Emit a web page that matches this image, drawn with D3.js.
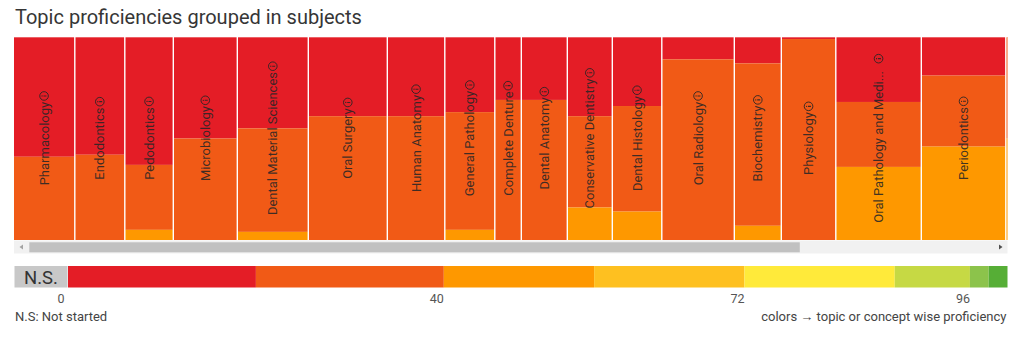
<!DOCTYPE html>
<html>
<head>
  <meta charset="utf-8" />
  <title>Topic proficiencies grouped in subjects</title>
  <script src="https://cdn.jsdelivr.net/npm/d3@7"></script>
  <style>
    html, body {
      margin: 0;
      padding: 0;
      background: #fff;
    }
    svg {
      display: block;
      font-family: Roboto, "Noto Sans", sans-serif;
    }
    .title {
      font-size: 20px;
      fill: #363636;
    }
    .col-label {
      font-size: 13px;
      fill: #262626;
      fill-opacity: 0.88;
    }
    .tick-label {
      font-size: 12.5px;
      fill: #555;
    }
    .note {
      font-size: 13px;
      fill: #444;
    }
  </style>
</head>
<body>
  <div id="chart"></div>
  <script>
    // subjects, in the order they are laid out
    const subjects = [
      "Pharmacology", "Endodontics", "Pedodontics", "Microbiology",
      "Dental Material Sciences", "Oral Surgery", "Human Anatomy",
      "General Pathology", "Complete Denture", "Dental Anatomy",
      "Conservative Dentistry", "Dental Histology", "Oral Radiology",
      "Biochemistry", "Physiology", "Oral Pathology and Medicine",
      "Periodontics", "Orthodontics"
    ];

    // column width weight of each subject
    const subjectWeight = [61.5, 50, 48.5, 64, 71, 79, 57.5, 50, 26.5, 46, 45, 49.5, 72.5, 47, 54.5, 85.5, 84.5, 60];

    // share of topics (%) in each proficiency band, per subject
    const band0to20 = [59, 58, 63, 50, 45, 39, 39, 37, 31, 31, 39, 34, 11, 13, 1, 32, 19, 0];
    const band20to40 = [41, 42, 32, 50, 51, 61, 61, 58, 69, 69, 45, 52, 89, 80, 99, 32, 35, 50];
    const band40to56 = [0, 0, 5, 0, 4, 0, 0, 5, 0, 0, 16, 14, 0, 7, 0, 36, 46, 50];

    // proficiency colour scale
    const thresholds = [0, 20, 40, 56, 72, 88, 96, 98, 100];
    const bandColors = ["#e41d26", "#f15a16", "#fe9800", "#fec020", "#ffea3a", "#c6d944", "#8cc34b", "#56ae36"];
    const tickValues = [0, 40, 72, 96];

    const W = 1024, H = 337;
    const view = { left: 14, right: 1007.5, top: 37, bottom: 240 };
    const contentWidth = 1242;

    const svg = d3.select("#chart").append("svg")
      .attr("width", W)
      .attr("height", H);

    svg.append("text")
      .attr("class", "title")
      .attr("x", 15)
      .attr("y", 23.5)
      .text("Topic proficiencies grouped in subjects");

    // rows for the stack
    const rows = subjects.map((s, i) => ({
      name: s,
      weight: subjectWeight[i],
      b0: band0to20[i],
      b1: band20to40[i],
      b2: band40to56[i]
    }));
    let acc = 0;
    rows.forEach(r => { r.start = acc; acc += r.weight; r.end = acc; });

    const x = d3.scaleLinear()
      .domain([0, d3.sum(subjectWeight)])
      .range([view.left, view.left + d3.sum(subjectWeight)]);

    const y = d3.scaleLinear()
      .domain([0, 100])
      .range([view.top, view.bottom]);

    const stack = d3.stack().keys(["b0", "b1", "b2"]);
    const series = stack(rows);

    svg.append("clipPath")
      .attr("id", "view-clip")
      .append("rect")
      .attr("x", view.left)
      .attr("y", view.top - 1)
      .attr("width", view.right - view.left)
      .attr("height", view.bottom - view.top + 1);

    const plot = svg.append("g").attr("clip-path", "url(#view-clip)");

    plot.selectAll("g.band")
      .data(series)
      .join("g")
      .attr("class", "band")
      .attr("fill", (d, i) => bandColors[i])
      .selectAll("rect")
      .data(d => d.filter(p => p[1] > p[0]))
      .join("rect")
      .attr("x", d => x(d.data.start))
      .attr("width", d => x(d.data.end) - x(d.data.start) - 1.4)
      .attr("y", d => y(d[0]))
      .attr("height", d => y(d[1]) - y(d[0]));

    // thin white edge along the top of the columns
    plot.append("line")
      .attr("x1", view.left).attr("x2", view.right)
      .attr("y1", view.top).attr("y2", view.top)
      .attr("stroke", "#fff").attr("stroke-opacity", 0.6).attr("stroke-width", 1);

    // rotated labels with an info icon (only for columns scrolled into view)
    const maxLabel = 156;
    const labels = plot.selectAll("g.col-label")
      .data(rows.filter(d => x(d.end) <= view.right + 2))
      .join("g")
      .attr("transform", d => `translate(${(x(d.start) + x(d.end) - 1.4) / 2},${(view.top + view.bottom) / 2}) rotate(-90)`);

    labels.each(function (d) {
      const g = d3.select(this);
      const t = g.append("text")
        .attr("class", "col-label")
        .attr("dy", "0.35em")
        .text(d.name);
      let cut = false;
      let name = d.name;
      while (t.node().getComputedTextLength() > maxLabel && name.length > 1) {
        name = name.slice(0, -1);
        t.text(name + "...");
        cut = true;
      }
      const len = t.node().getComputedTextLength();
      const r = 4.3, gap = cut ? 8 : 1.5;
      const total = len + gap + 2 * r;
      t.attr("x", -total / 2);
      const icon = g.append("g")
        .attr("transform", `translate(${-total / 2 + len + gap + r},0)`)
        .attr("stroke", "#262626")
        .attr("stroke-opacity", 0.88)
        .attr("fill", "none");
      icon.append("circle").attr("r", r).attr("stroke-width", 1);
      icon.append("line")
        .attr("x1", 0).attr("x2", 0)
        .attr("y1", -0.6).attr("y2", 2.4)
        .attr("stroke-width", 1.1);
      icon.append("circle")
        .attr("cy", -2)
        .attr("r", 0.6)
        .attr("fill", "#262626")
        .attr("stroke", "none");
    });

    // horizontal scroll bar under the columns
    const sb = svg.append("g");
    sb.append("rect")
      .attr("x", view.left).attr("y", 240.5)
      .attr("width", view.right - view.left).attr("height", 13)
      .attr("fill", "#f1f1f1");
    const track0 = view.left + 15.3, track1 = view.right - 15;
    const thumbW = (track1 - track0) * (view.right - view.left) / contentWidth;
    sb.append("rect")
      .attr("x", track0).attr("y", 242.3)
      .attr("width", thumbW).attr("height", 10)
      .attr("fill", "#c1c1c1");
    sb.append("path")
      .attr("d", "M19.5,247 L23,244.5 L23,249.5 Z")
      .attr("fill", "#a3a3a3");
    sb.append("path")
      .attr("d", "M1002.5,247 L999,244.5 L999,249.5 Z")
      .attr("fill", "#505050");

    // legend
    const lx = d3.scaleLinear().domain([0, 100]).range([68, 1007.5]);
    const legend = svg.append("g");

    legend.append("rect")
      .attr("x", 14.5).attr("y", 266)
      .attr("width", 53).attr("height", 21.5)
      .attr("fill", "#c8c8c8");
    legend.append("text")
      .attr("x", 41).attr("y", 283.5)
      .attr("text-anchor", "middle")
      .attr("font-size", 18.5)
      .attr("fill", "#333")
      .text("N.S.");

    legend.selectAll("rect.step")
      .data(bandColors)
      .join("rect")
      .attr("class", "step")
      .attr("x", (c, i) => lx(thresholds[i]))
      .attr("width", (c, i) => lx(thresholds[i + 1]) - lx(thresholds[i]))
      .attr("y", 266)
      .attr("height", 21.5)
      .attr("fill", c => c);

    legend.selectAll("text.tick-label")
      .data(tickValues)
      .join("text")
      .attr("class", "tick-label")
      .attr("x", v => lx(v) - 7)
      .attr("y", 302.5)
      .attr("text-anchor", "middle")
      .text(v => v);

    svg.append("text")
      .attr("class", "note")
      .attr("x", 15)
      .attr("y", 321)
      .text("N.S: Not started");

    svg.append("text")
      .attr("class", "note")
      .attr("x", 1006.5)
      .attr("y", 321)
      .attr("text-anchor", "end")
      .text("colors \u2192 topic or concept wise proficiency");
  </script>
</body>
</html>
